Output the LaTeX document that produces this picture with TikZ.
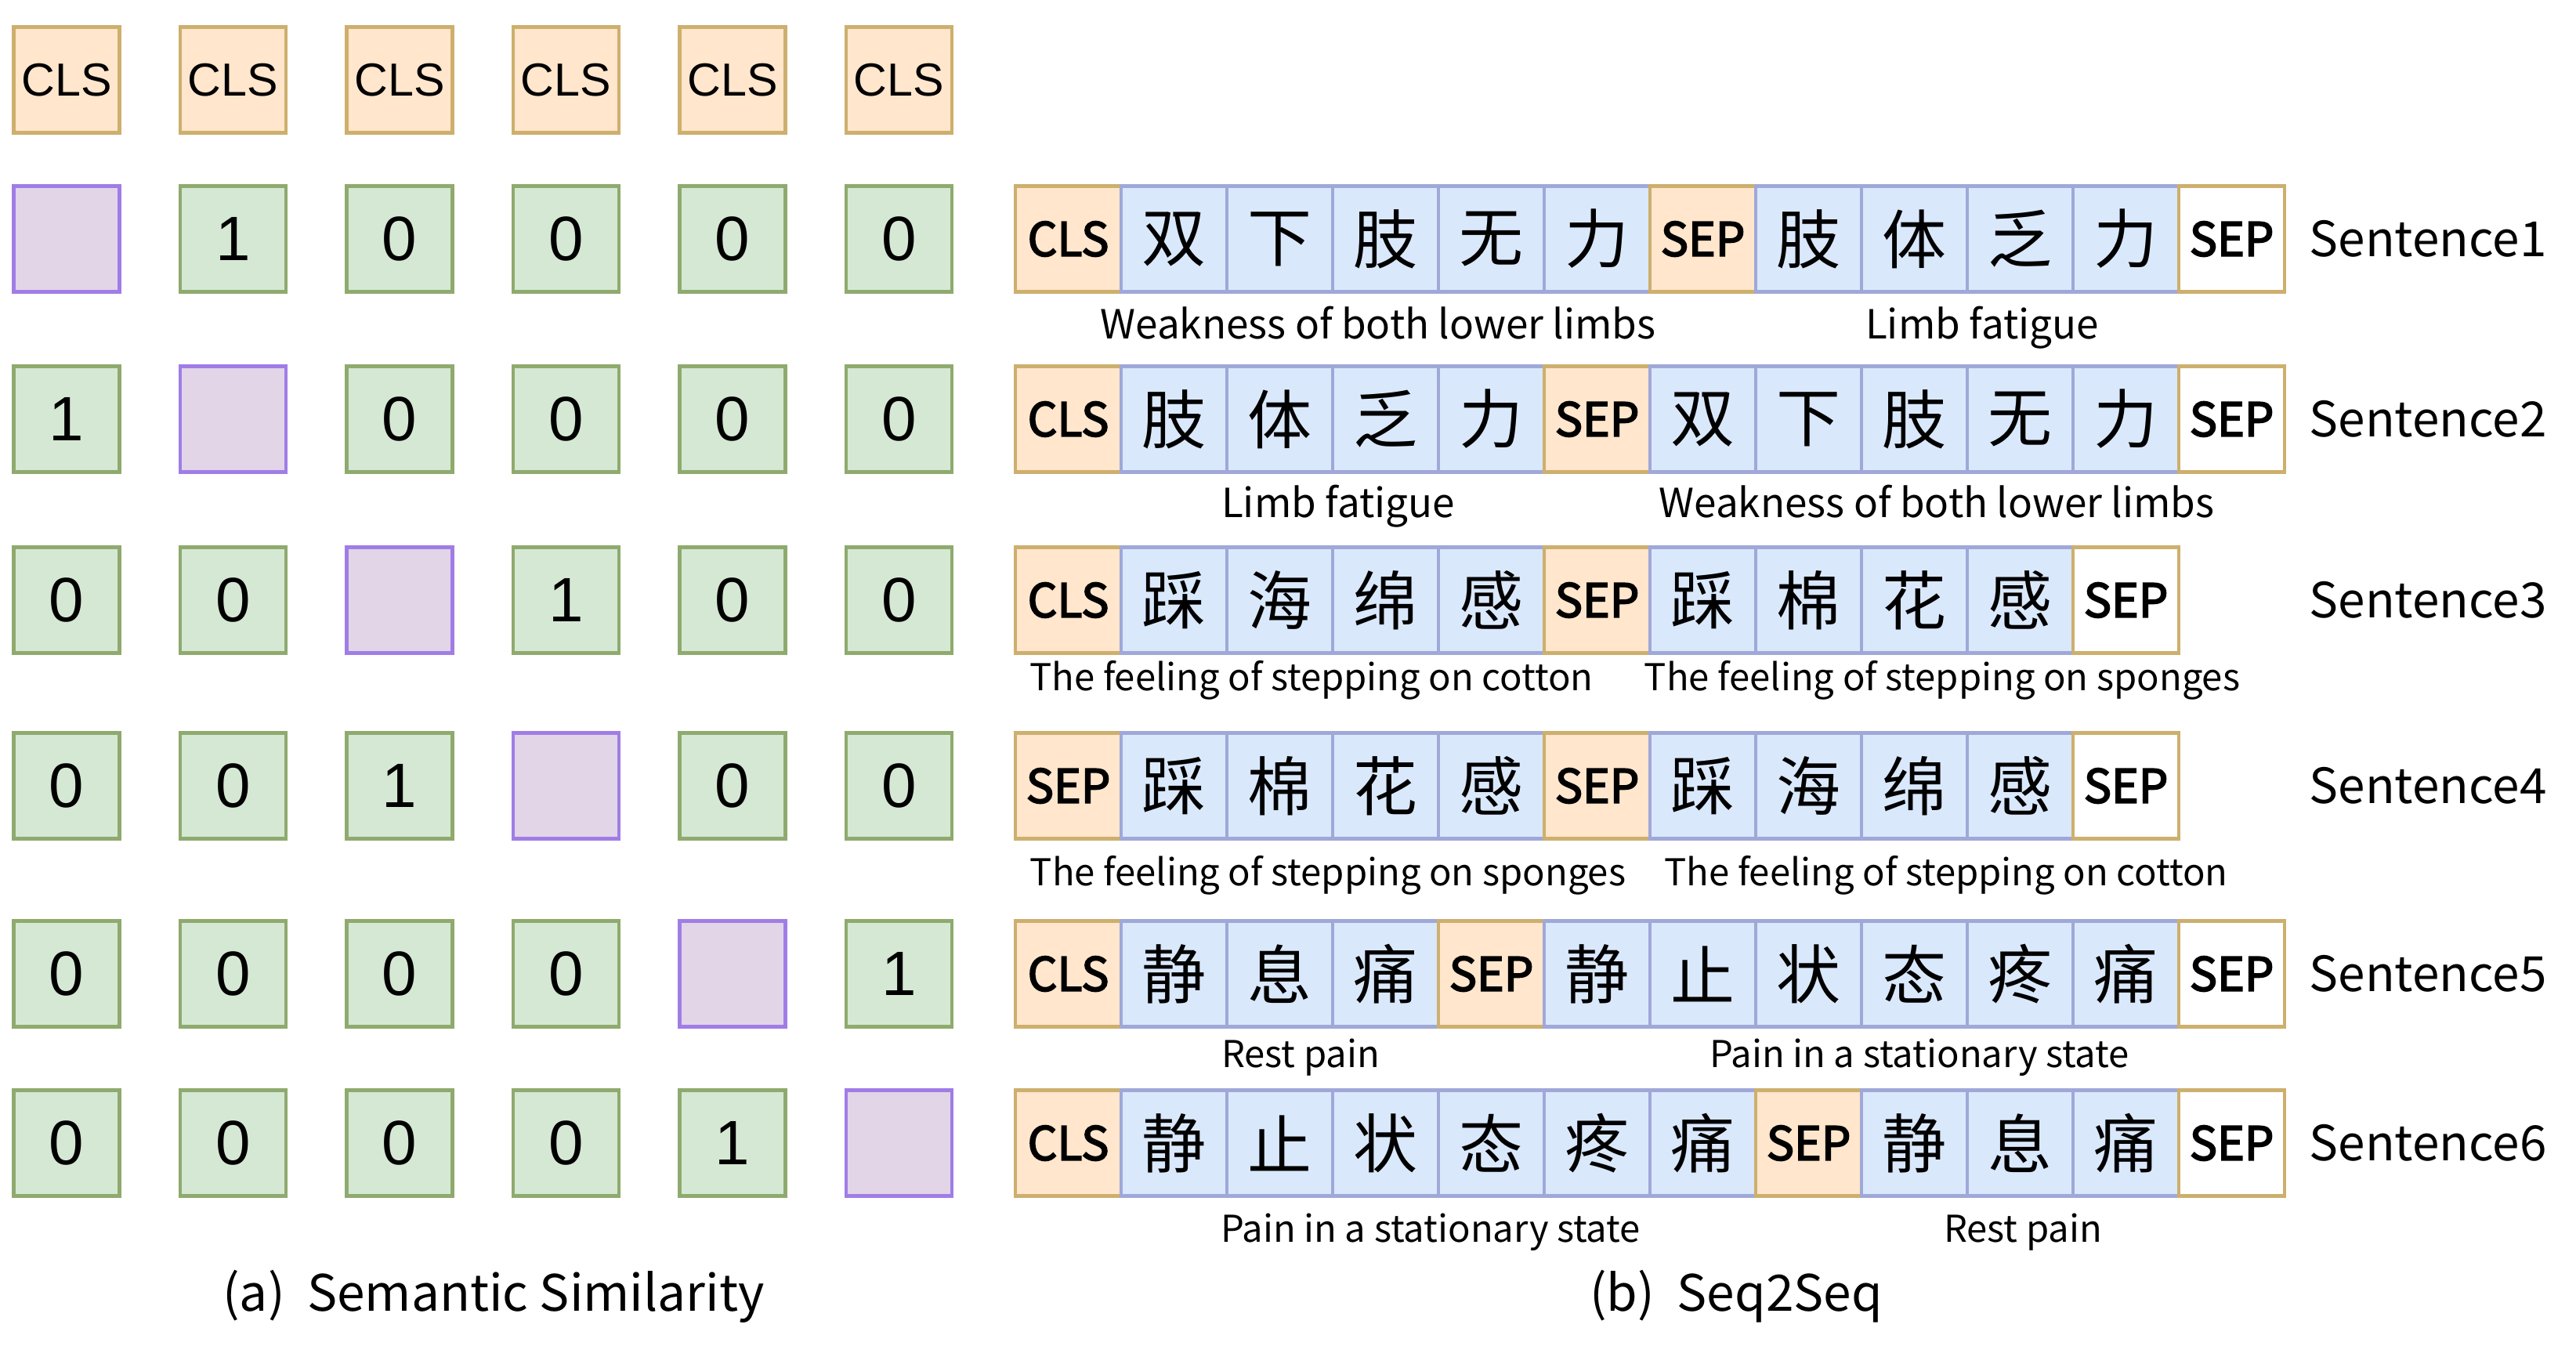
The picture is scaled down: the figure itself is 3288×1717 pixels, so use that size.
\documentclass[tikz,border=0pt]{standalone}
\usepackage{fontspec}
\setmainfont{Liberation Sans}
\newfontfamily\cjk{Noto Sans CJK SC}
\newfontfamily\cjkmed[FakeBold=3]{Noto Sans CJK SC}
\usepackage{tikz}

\definecolor{fillo}{HTML}{FFE6CC}
\definecolor{lineo}{HTML}{CDAF6E}
\definecolor{fillb}{HTML}{DAE8FC}
\definecolor{lineb}{HTML}{A0A8D8}
\definecolor{fille}{HTML}{FFFFFF}
\definecolor{linee}{HTML}{CDAF6E}
\definecolor{fillg}{HTML}{D5E8D4}
\definecolor{lineg}{HTML}{8FAA6E}
\definecolor{fillp}{HTML}{E1D5E7}
\definecolor{linep}{HTML}{A07DE6}

\newcommand\tokfonto{\cjkmed\fontsize{14.8}{17}\selectfont}
\newcommand\tokfontb{\cjk\fontsize{20.5}{23}\selectfont}
\newcommand\tokfonte{\cjkmed\fontsize{14.8}{17}\selectfont}

\tikzset{
  cell/.style={rectangle, inner sep=0pt, line width=1.1pt,
    minimum width=33.75pt, minimum height=33.75pt},
  clscell/.style={cell, fill=fillo, draw=lineo, font=\fontsize{14.8}{17}\selectfont},
  simcell/.style={cell, fill=fillg, draw=lineg, font=\fontsize{20}{22}\selectfont},
  selfcell/.style={cell, fill=fillp, draw=linep},
  tok/.style={cell, fill=fill#1, draw=line#1, font=\csname tokfont#1\endcsname},
  sentlabel/.style={anchor=west, inner sep=0pt, font=\cjk\fontsize{15.5}{18}\selectfont},
  gloss/.style={anchor=base, inner sep=0pt, font=\cjk\fontsize{#1}{16}\selectfont},
  caption/.style={inner sep=0pt, font=\cjk\fontsize{16}{19}\selectfont}
}

\begin{document}
\begin{tikzpicture}[x=0.25pt,y=-0.25pt]

\useasboundingbox (0,0) rectangle (3288,1717);

\foreach \c in {1,...,6}
    \node [clscell] (cls\c) at ({85+212.5*(\c-1)},102) {CLS};

\foreach \r/\y/\vals in {1/305/{-,1,0,0,0,0}, 2/535/{1,-,0,0,0,0}, 3/766/{0,0,-,1,0,0},
                         4/1003/{0,0,1,-,0,0}, 5/1243/{0,0,0,0,-,1}, 6/1459/{0,0,0,0,1,-}}
    \foreach \v [count=\c] in \vals {
        \ifnum\c=\r
            \node [selfcell] (m\r-\c) at ({85+212.5*(\c-1)},\y) {};
        \else
            \node [simcell] (m\r-\c) at ({85+212.5*(\c-1)},\y) {\v};
        \fi
    }

\foreach \r/\y/\toks in {
    1/305/{o/CLS,b/双,b/下,b/肢,b/无,b/力,o/SEP,b/肢,b/体,b/乏,b/力,e/SEP},
    2/535/{o/CLS,b/肢,b/体,b/乏,b/力,o/SEP,b/双,b/下,b/肢,b/无,b/力,e/SEP},
    3/766/{o/CLS,b/踩,b/海,b/绵,b/感,o/SEP,b/踩,b/棉,b/花,b/感,e/SEP},
    4/1003/{o/SEP,b/踩,b/棉,b/花,b/感,o/SEP,b/踩,b/海,b/绵,b/感,e/SEP},
    5/1243/{o/CLS,b/静,b/息,b/痛,o/SEP,b/静,b/止,b/状,b/态,b/疼,b/痛,e/SEP},
    6/1459/{o/CLS,b/静,b/止,b/状,b/态,b/疼,b/痛,o/SEP,b/静,b/息,b/痛,e/SEP}} {
    \foreach \t/\s [count=\k] in \toks
        \node [tok=\t] (t\r-\k) at ({1363.5+135*(\k-1)},\y) {\s};
    \node [sentlabel] (sent\r) at (2947,\y) {Sentence\r};
}

\foreach \n/\x/\y/\sz/\txt in {
    1a/1759/432/12.8/Weakness of both lower limbs, 1b/2530/432/12.8/Limb fatigue,
    2a/1708/660/12.8/Limb fatigue, 2b/2472/660/12.8/Weakness of both lower limbs,
    3a/1674/881/11.8/The feeling of stepping on cotton, 3b/2479/881/11.8/The feeling of stepping on sponges,
    4a/1695/1130/11.8/The feeling of stepping on sponges, 4b/2484/1130/11.8/The feeling of stepping on cotton,
    5a/1660/1362/11.8/Rest pain, 5b/2450/1362/11.8/Pain in a stationary state,
    6a/1826/1585/11.8/Pain in a stationary state, 6b/2582/1585/11.8/Rest pain}
    \node [gloss=\sz] (g\n) at (\x,\y) {\txt};

\node [caption] (capa) at (630,1655) {(a)\ \ Semantic Similarity};
\node [caption] (capb) at (2216,1655) {(b)\ \ Seq2Seq};

\end{tikzpicture}
\end{document}
